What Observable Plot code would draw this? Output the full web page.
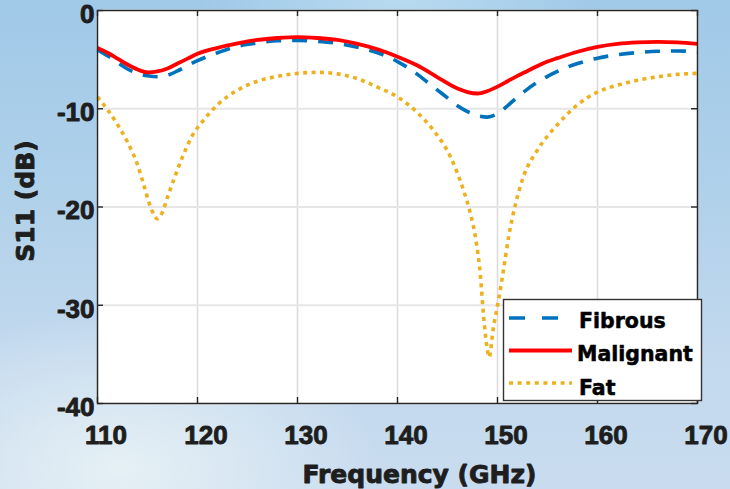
<!DOCTYPE html>
<html>
<head>
<meta charset="utf-8">
<script src="https://cdn.jsdelivr.net/npm/d3@7"></script>
<script src="https://cdn.jsdelivr.net/npm/@observablehq/plot@0.6"></script>
<style>
  html, body { margin: 0; padding: 0; }
  body {
    width: 730px; height: 489px; overflow: hidden;
    background:
      radial-gradient(ellipse 260px 160px at 120px 470px, rgba(235,244,246,0.85), rgba(235,244,246,0) 100%),
      radial-gradient(ellipse 200px 60px at 400px 0px, rgba(200,230,245,0.6), rgba(200,230,245,0) 100%),
      linear-gradient(180deg, #a0c9e8 0%, #b0d1ea 40%, #c3d9ee 75%, #c9dcef 100%);
  }
  #wrap { position: relative; width: 730px; height: 489px; }
  #legend { position: absolute; left: 0; top: 0; pointer-events: none; }
  .heavy text { stroke: #1e1e1e; stroke-width: 0.9px; paint-order: stroke; stroke-linejoin: round; }
  #legend text { stroke: #000; stroke-width: 0.5px; stroke-linejoin: round; }
</style>
</head>
<body>
<div id="wrap"></div>
<script>
// ---- data ----
const xTicks = [110, 120, 130, 140, 150, 160, 170];
const yTicks = [0, -10, -20, -30, -40];
const seriesNames = ["Fibrous", "Malignant", "Fat"];

const fibrousFreq = [110,111,112,113,114,115,116,117,118,119,120,122,124,126,128,130,132,134,136,138,140,141,142,143,144,145,146,147,148,149,150,151,152,153,154,155,156,157,158,160,162,164,166,168,170];
const fibrousS11  = [-4.0,-4.6,-5.3,-5.95,-6.4,-6.65,-6.75,-6.6,-6.15,-5.6,-5.1,-4.3,-3.65,-3.3,-3.07,-3.05,-3.15,-3.35,-3.75,-4.3,-5.2,-5.8,-6.5,-7.3,-8.1,-8.9,-9.7,-10.3,-10.7,-10.85,-10.5,-9.7,-8.8,-8.0,-7.3,-6.7,-6.2,-5.75,-5.4,-4.85,-4.5,-4.28,-4.15,-4.12,-4.2];

const malignantFreq = [110,111,112,113,114,115,116,117,118,119,120,122,124,126,128,130,132,134,136,138,140,142,144,146,147,148,149,150,151,152,153,154,155,156,158,160,162,164,166,168,170];
const malignantS11  = [-3.8,-4.3,-4.9,-5.5,-6.0,-6.3,-6.2,-5.9,-5.4,-4.9,-4.4,-3.8,-3.35,-3.0,-2.8,-2.7,-2.8,-3.0,-3.4,-3.95,-4.7,-5.6,-6.8,-7.95,-8.3,-8.45,-8.2,-7.75,-7.2,-6.65,-6.15,-5.65,-5.2,-4.85,-4.2,-3.7,-3.4,-3.25,-3.2,-3.25,-3.4];

const fatFreq = [110,111,112,113,114,114.7,115.3,116,116.5,117,117.6,118.5,119.5,120.5,122,124,126,128,130,132,134,136,138,140,142,143.6,145.3,146.6,147.3,147.8,148.3,148.6,149,149.15,149.6,150.1,150.6,151.1,151.8,152.6,154,156,158,160,162,164,166,168,170];
const fatS11  = [-8.8,-10.1,-11.6,-13.4,-15.7,-18.0,-20.0,-21.2,-20.5,-19.0,-17.3,-14.9,-12.7,-11.3,-9.6,-8.1,-7.2,-6.7,-6.4,-6.3,-6.45,-6.95,-7.8,-8.8,-10.4,-12.2,-14.9,-18.3,-20.7,-23.1,-27.1,-31.0,-34.6,-35.3,-32.2,-29.5,-26.4,-23.1,-19.7,-16.9,-14.2,-11.6,-9.6,-8.3,-7.6,-7.1,-6.75,-6.5,-6.4];

// ---- styling ----
const colors = {Fibrous: "#0072BD", Malignant: "#FF0000", Fat: "#EDB120"};
const dashes = {Fibrous: "15,11", Malignant: null, Fat: "4,4.4"};
const W = 730, H = 489;
const mTop = 10, mRight = 33, mBottom = 86, mLeft = 97;
const innerH = H - mTop - mBottom, innerW = W - mLeft - mRight;
const tickLen = 6;
const ink = "#1e1e1e";

const toRows = (fs, vs) => fs.map((f, i) => ({f, v: vs[i]}));
const rows = {
  Fibrous: toRows(fibrousFreq, fibrousS11),
  Malignant: toRows(malignantFreq, malignantS11),
  Fat: toRows(fatFreq, fatS11)
};

const lineMark = name => Plot.line(rows[name], {
  x: "f", y: "v", curve: "monotone-x",
  stroke: colors[name], strokeWidth: name === "Malignant" ? 3.8 : 3.6,
  strokeDasharray: dashes[name], strokeLinecap: "butt"
});

const chart = Plot.plot({
  width: W, height: H,
  marginTop: mTop, marginRight: mRight, marginBottom: mBottom, marginLeft: mLeft,
  className: "heavy",
  x: {domain: [110, 170]},
  y: {domain: [-40, 0]},
  style: {background: "transparent", overflow: "visible", fontFamily: "'Liberation Sans', Arial, sans-serif"},
  marks: [
    Plot.frame({fill: "white", stroke: null}),
    Plot.gridX(xTicks, {stroke: "#dcdcdc", strokeOpacity: 1, strokeWidth: 1.6}),
    Plot.gridY(yTicks, {stroke: "#e6e6e6", strokeOpacity: 1, strokeWidth: 1.8}),
    lineMark("Fat"),
    lineMark("Fibrous"),
    lineMark("Malignant"),
    Plot.frame({stroke: "#262626", strokeWidth: 1.4}),
    Plot.tickX(xTicks, {x: d => d, insetTop: innerH - tickLen, stroke: "#262626", strokeWidth: 1.4}),
    Plot.tickX(xTicks, {x: d => d, insetBottom: innerH - tickLen, stroke: "#262626", strokeWidth: 1.4}),
    Plot.tickY(yTicks, {y: d => d, insetRight: innerW - tickLen, stroke: "#262626", strokeWidth: 1.4}),
    Plot.tickY(yTicks, {y: d => d, insetLeft: innerW - tickLen, stroke: "#262626", strokeWidth: 1.4}),
    Plot.axisX(xTicks, {tickSize: 0, tickPadding: 22, dx: 8.5, label: null, tickFormat: d => String(d),
      fontSize: 26, fontWeight: "bold", fill: ink}),
    Plot.axisY(yTicks, {tickSize: 0, tickPadding: 3, dy: 4, label: null, tickFormat: d => String(d),
      fontSize: 26, fontWeight: "bold", fill: ink}),
    Plot.text(["Frequency (GHz)"], {text: d => d, frameAnchor: "bottom", lineAnchor: "bottom", textAnchor: "middle",
      dx: 22, dy: 79, fontFamily: "DejaVu Sans", fontWeight: "bold", fontSize: 25, fill: ink}),
    Plot.text(["S11 (dB)"], {text: d => d, frameAnchor: "left", textAnchor: "middle", rotate: -90, dx: -72, dy: -6,
      fontFamily: "DejaVu Sans", fontWeight: "bold", fontSize: 25, fill: ink})
  ]
});

const wrap = document.getElementById("wrap");
wrap.appendChild(chart);

// ---- legend overlay ----
const ns = "http://www.w3.org/2000/svg";
const lg = document.createElementNS(ns, "svg");
lg.setAttribute("id", "legend");
lg.setAttribute("width", W);
lg.setAttribute("height", H);
const box = document.createElementNS(ns, "rect");
box.setAttribute("x", 503.5); box.setAttribute("y", 299.5);
box.setAttribute("width", 198); box.setAttribute("height", 101);
box.setAttribute("fill", "white"); box.setAttribute("stroke", "#333"); box.setAttribute("stroke-width", 1.4);
lg.appendChild(box);
const legDash = {Fibrous: "16,17", Malignant: null, Fat: "4,4.6"};
seriesNames.forEach((name, i) => {
  const ly = 318 + i * 32.5;
  const ln = document.createElementNS(ns, "line");
  ln.setAttribute("x1", 509); ln.setAttribute("x2", 572);
  ln.setAttribute("y1", ly); ln.setAttribute("y2", ly);
  ln.setAttribute("stroke", colors[name]);
  ln.setAttribute("stroke-width", name === "Malignant" ? 3.8 : 3.6);
  if (legDash[name]) ln.setAttribute("stroke-dasharray", legDash[name]);
  lg.appendChild(ln);
  const t = document.createElementNS(ns, "text");
  t.setAttribute("x", name === "Malignant" ? 577 : 579);
  t.setAttribute("y", ly + 10 + (i === 2 ? 1.5 : 0));
  t.setAttribute("font-family", "DejaVu Sans");
  t.setAttribute("font-weight", "bold");
  t.setAttribute("font-size", 20.5);
  t.setAttribute("fill", "#000");
  t.textContent = name;
  lg.appendChild(t);
});
wrap.appendChild(lg);
</script>
</body>
</html>
